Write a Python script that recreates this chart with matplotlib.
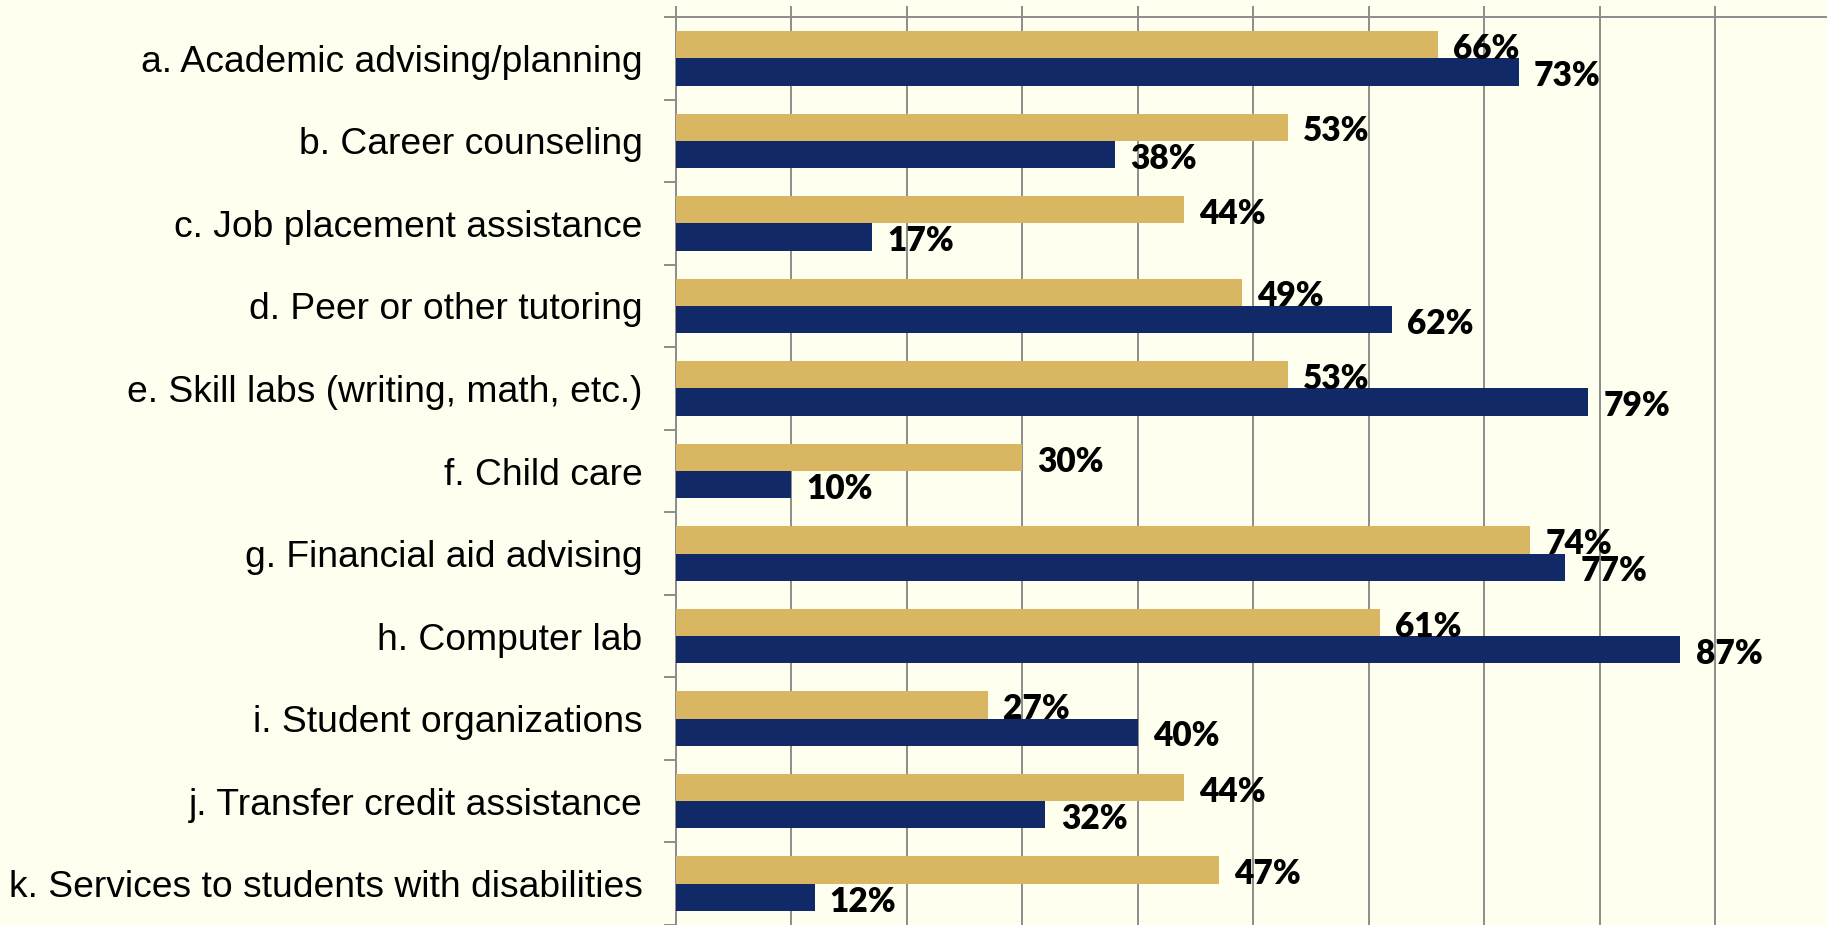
import numpy as np
import matplotlib
matplotlib.use("Agg")
import matplotlib.pyplot as plt

# services and the two series (gold drawn on top of navy in each group)
services = ["a. Academic advising/planning",
            "b. Career counseling",
            "c. Job placement assistance",
            "d. Peer or other tutoring",
            "e. Skill labs (writing, math, etc.)",
            "f. Child care",
            "g. Financial aid advising",
            "h. Computer lab",
            "i. Student organizations",
            "j. Transfer credit assistance",
            "k. Services to students with disabilities"]
gold_vals = [66, 53, 44, 49, 53, 30, 74, 61, 27, 44, 47]
navy_vals = [73, 38, 17, 62, 79, 10, 77, 87, 40, 32, 12]

bg = "#FFFFF0"
gold = "#D9B662"
navy = "#112966"
grey = "#8C8C8C"

fig = plt.figure(figsize=(18.27, 9.25), dpi=100, facecolor=bg)
ax = fig.add_axes([0.370, 0.0, 0.630, 0.9816])
ax.set_facecolor(bg)

y = np.arange(len(services))
h = 0.33
ax.barh(y - h/2, gold_vals, height=h, color=gold, zorder=3)
ax.barh(y + h/2, navy_vals, height=h, color=navy, zorder=3)

lab_font = dict(family="Lato", weight="heavy", size=24)
for i in range(len(services)):
    ax.annotate("%d%%" % gold_vals[i], (gold_vals[i], y[i] - h/2), xytext=(11, -3),
                textcoords="offset points", va="center", ha="left", zorder=4, **lab_font)
    ax.annotate("%d%%" % navy_vals[i], (navy_vals[i], y[i] + h/2), xytext=(11, -3),
                textcoords="offset points", va="center", ha="left", zorder=4, **lab_font)

ax.set_xlim(0, 99.7)
ax.set_ylim(len(services) - 0.5, -0.5)

# x axis on top, ticks only, gridlines from them
ax.xaxis.tick_top()
ax.set_xticks(np.arange(0, 100, 10))
ax.set_xticklabels([])
ax.tick_params(axis="x", direction="out", length=8, width=1.4, color=grey)
ax.grid(axis="x", color=grey, linewidth=1.4, zorder=0)

# category ticks at group boundaries, labels at centres
ax.set_yticks(np.arange(-0.5, len(services), 1.0))
ax.set_yticklabels([])
ax.set_yticks(y, minor=True)
ax.set_yticklabels(services, minor=True, family="Liberation Sans", size=26.8)
ax.tick_params(axis="y", which="major", direction="out", length=8.5, width=1.4, color=grey)
ax.tick_params(axis="y", which="minor", length=0, pad=24)

for s in ["right", "bottom"]:
    ax.spines[s].set_visible(False)
for s in ["left", "top"]:
    ax.spines[s].set_color(grey)
    ax.spines[s].set_linewidth(1.4)

fig.savefig("out.png", dpi=100, facecolor=bg)
